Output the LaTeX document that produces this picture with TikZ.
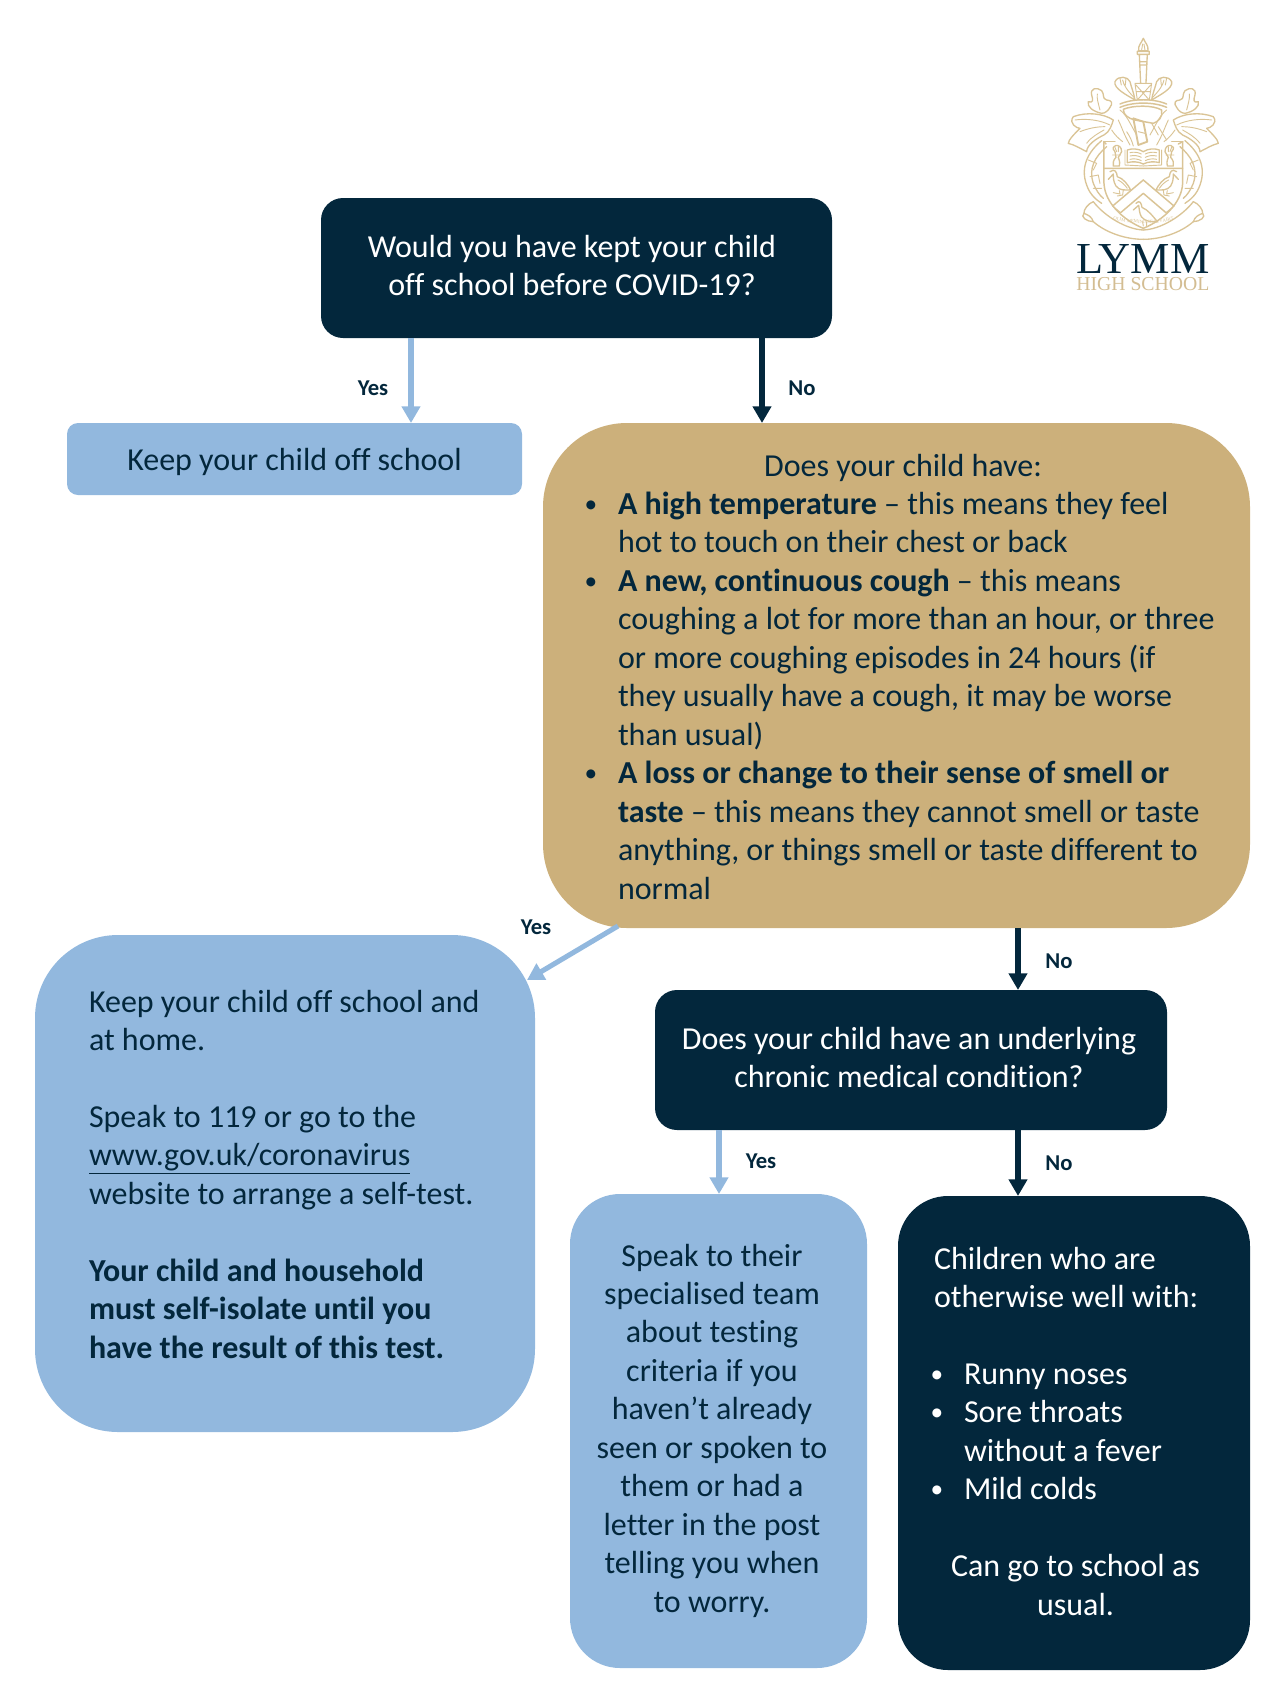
\documentclass[tikz,border=0pt]{standalone}
\usepackage{fontspec}
\setmainfont[Ligatures=CommonOff]{Carlito}
\newfontfamily\logofont{Liberation Serif}
\usetikzlibrary{arrows.meta,calc,decorations.text}
\definecolor{navy}{HTML}{03273C}
\definecolor{tan}{HTML}{CCB07B}
\definecolor{sky}{HTML}{92B8DE}
\definecolor{gold}{HTML}{DAC496}
\definecolor{goldtext}{HTML}{D3BD92}
\newdimen\px \px=.75pt
% width, height, first baseline, alignment settings, lines
\newcommand\tb[5]{\begin{minipage}[c][#2\px][t]{#1\px}#4\rule{0pt}{#3\px}#5\par\end{minipage}}
\newcommand\lft[1]{\leftskip=#1\px\rightskip=0pt\parfillskip=0pt plus 1fil\relax}
\newcommand\ctrx[2]{\leftskip=#1\px plus 1fil\rightskip=#2\px plus 1fil\parfillskip=0pt\relax}
\newcommand\bul{\makebox[0pt][r]{\raisebox{1.6pt}{\fontsize{19}{19}\selectfont •}\hspace{15.5pt}}}
\tikzset{
  x=.75pt,y=-.75pt,
  fbox/.style n args={3}{rectangle,inner sep=0pt,outer sep=0pt,anchor=north west,
    minimum width=#1*0.75pt,minimum height=#2*0.75pt,rounded corners=#3*0.75pt,
    font=\fontsize{24}{28.85}\selectfont},
  darkbox/.style={fill=navy,text=white},
  skybox/.style={fill=sky,text=navy},
  tanbox/.style={fill=tan,text=navy},
  yesarrow/.style={draw=sky,line width=4.4pt,-{Triangle[length=12.5pt,width=13.5pt]}},
  noarrow/.style={draw=navy,line width=4.4pt,-{Triangle[length=12.5pt,width=13.5pt]}},
  lab/.style={text=navy,font=\fontsize{17}{20}\bfseries\selectfont,inner sep=0pt},
  crest/.style={draw=gold,line width=.7pt,line join=round,line cap=round},
}
\begin{document}
\begin{tikzpicture}
\useasboundingbox (0,0) rectangle (1280,1707);
% boxes
\node[fbox={511}{140}{22},darkbox] (top) at (321,198)
  {\tb{511}{140}{59}{\ctrx{0}{9}}{Would you have kept your child\par off school before COVID-19?}};
\node[fbox={455}{72}{11},skybox] (keep) at (67,423)
  {\tb{455}{72}{47}{\ctrx{0}{0}}{Keep your child off school}};
\node[fbox={707}{505}{84},tanbox] (sym) at (543,423)
  {\tb{707}{505}{53}{\lft{75}}{{\leftskip=0pt plus 1fil\rightskip=0pt plus 1fil\parfillskip=0pt\relax\hspace*{13\px}Does your child have:\par}
  \bul\textbf{A high temperature} – this means they feel\par
  hot to touch on their chest or back\par
  \bul\textbf{A new, continuous cough} – this means\par
  coughing a lot for more than an hour, or three\par
  or more coughing episodes in 24 hours (if\par
  they usually have a cough, it may be worse\par
  than usual)\par
  \bul\textbf{A loss or change to their sense of smell or}\par
  \textbf{taste} – this means they cannot smell or taste\par
  anything, or things smell or taste different to\par
  normal}};
\node[fbox={500}{497}{83},skybox] (home) at (35,935)
  {\tb{500}{497}{77}{\lft{54}}{Keep your child off school and\par
  at home.\par\vspace{28.85pt}
  Speak to 119 or go to the\par
  \underline{www.gov.uk/coronavirus}\par
  website to arrange a self-test.\par\vspace{28.85pt}
  \textbf{Your child and household}\par
  \textbf{must self-isolate until you}\par
  \textbf{have the result of this test.}}};
\node[fbox={512}{140}{22},darkbox] (cond) at (655,990)
  {\tb{512}{140}{59}{\ctrx{0}{4}}{Does your child have an underlying\par chronic medical condition?}};
\node[fbox={297}{474}{50},skybox] (team) at (570,1194)
  {\tb{297}{474}{72}{\ctrx{0}{13}}{Speak to their\par specialised team\par about testing\par criteria if you\par haven’t already\par seen or spoken to\par them or had a\par letter in the post\par telling you when\par to worry.}};
\node[fbox={352}{474}{50},darkbox] (well) at (898,1196)
  {\tb{352}{474}{73}{\lft{36}}{Children who are\par otherwise well with:\par\vspace{28.85pt}
  {\leftskip=66\px\bul Runny noses\par
  \bul Sore throats\par
  without a fever\par
  \bul Mild colds\par}\vspace{28.85pt}
  {\leftskip=3\px plus 1fil\rightskip=0pt plus 1fil\parfillskip=0pt\relax Can go to school as\par usual.\par}}};
% connector x positions
\coordinate (xa) at (411,0);
\coordinate (xb) at (762,0);
\coordinate (xc) at (1018,0);
\coordinate (xd) at (719,0);
\draw[yesarrow] (top.south -| xa) -- (keep.north -| xa);
\draw[noarrow] (top.south -| xb) -- (sym.north -| xb);
\draw[yesarrow,line width=3.8pt] ([shift={(75,-2)}]sym.south west) -- ([shift={(-8,45)}]home.north east);
\draw[noarrow,line width=3.8pt] (sym.south -| xc) -- (cond.north -| xc);
\draw[yesarrow,line width=3.8pt] (cond.south -| xd) -- (team.north -| xd);
\draw[noarrow,line width=3.8pt] (cond.south -| xc) -- (well.north -| xc);
% labels
\node[lab] (l1) at (373,388) {Yes};
\node[lab] (l2) at (802,388) {No};
\node[lab] (l3) at (536,927) {Yes};
\node[lab] (l4) at (1059,961) {No};
\node[lab] (l5) at (761,1161) {Yes};
\node[lab] (l6) at (1059,1163) {No};
% logo text
\node[anchor=base west,inner sep=0pt,text=navy,font=\logofont\fontsize{33.2}{36}\selectfont] (lymm) at (1076,273) {LYMM};
\node[anchor=base west,inner sep=0pt,text=goldtext,font=\logofont\fontsize{14.8}{16}\selectfont] (high) at (1076,290) {HIGH SCHOOL};
% crest (drawn in 3x zoom units about the centre line)
\begin{scope}[shift={(1143.3,20)},x=.25pt,y=-.25pt]
  % torch
  \draw[crest,line width=1pt] (0,55) .. controls (-6,70) and (-16,75) .. (-14,92) -- (14,92) .. controls (16,75) and (6,70) .. (0,55);
  \draw[crest] (-5,90) -- (-2,72) (5,90) -- (2,72);
  \draw[crest,line width=1pt] (-18,94) rectangle (18,103) (-12,103) -- (-8,190) (12,103) -- (8,190) (-8,125) -- (8,125) (-8,135) -- (8,135);
  % crossed straps on the torch
  \draw[crest] (-25,190) -- (25,190) -- (18,240) -- (-18,240) -- cycle (-22,195) -- (18,240) (22,195) -- (-18,240) (-22,215) -- (22,215);
  % wreath
  \draw[crest,line width=1.1pt] (-70,262) .. controls (-30,245) and (30,245) .. (70,262);
  \draw[crest,line width=1.1pt] (-70,252) .. controls (-30,235) and (30,235) .. (70,252);
  \foreach \sg in {1,-1}{
  \begin{scope}[xscale=\sg]
    % plume
    \draw[crest,line width=1pt] (-25,240) .. controls (-50,225) and (-90,205) .. (-85,185) .. controls (-75,165) and (-45,170) .. (-40,185) .. controls (-35,205) and (-28,220) .. (-25,240);
    \draw[crest] (-28,232) .. controls (-45,215) and (-60,195) .. (-62,180) (-70,175) -- (-66,195) (-52,175) -- (-54,195);
    % upper leaf
    \draw[crest,line width=1pt] (-125,280) .. controls (-150,275) and (-170,260) .. (-165,245) .. controls (-150,250) and (-150,240) .. (-155,225) .. controls (-160,205) and (-140,200) .. (-125,212) .. controls (-115,225) and (-125,235) .. (-110,240) .. controls (-95,240) and (-90,250) .. (-100,262) .. controls (-105,272) and (-115,280) .. (-125,280);
    \draw[crest] (-130,270) .. controls (-135,250) and (-140,235) .. (-138,222);
    % mantling
    \draw[crest,line width=1pt] (-90,300) .. controls (-120,280) and (-170,275) .. (-210,290) .. controls (-225,310) and (-200,325) .. (-190,325) .. controls (-205,340) and (-225,360) .. (-225,370) .. controls (-205,375) and (-190,385) .. (-170,395) .. controls (-170,375) and (-140,355) .. (-118,345) .. controls (-100,335) and (-95,315) .. (-90,300);
    \draw[crest] (-205,300) .. controls (-170,295) and (-130,300) .. (-100,315) (-190,335) .. controls (-165,325) and (-140,320) .. (-115,320) (-170,370) .. controls (-155,350) and (-135,340) .. (-118,330);
    % helmet side folds
    \draw[crest] (-70,270) .. controls (-50,285) and (-40,310) .. (-20,345) (-75,300) .. controls (-65,320) and (-60,340) .. (-40,375) (-95,330) .. controls (-85,345) and (-75,355) .. (-62,365);
    % side vine
    \draw[crest,line width=1pt] (-125,362) .. controls (-165,395) and (-190,440) .. (-170,495) .. controls (-160,525) and (-140,540) .. (-125,550);
    \draw[crest,line width=1pt] (-110,380) .. controls (-145,410) and (-165,445) .. (-150,490) .. controls (-142,510) and (-132,525) .. (-120,535);
    \draw[crest] (-165,420) -- (-140,430) -- (-150,450) (-160,470) -- (-135,465) -- (-130,490) (-150,505) -- (-125,505);
    % shield half
    \draw[crest,line width=1.1pt] (-118,365) -- (-118,490) .. controls (-115,550) and (-60,600) .. (0,625);
    % garb
    \draw[crest,line width=1pt] (-85,395) .. controls (-105,375) and (-65,365) .. (-65,395) -- (-75,412) .. controls (-70,425) and (-70,432) .. (-72,438) -- (-90,438) .. controls (-92,430) and (-90,420) .. (-82,412) -- cycle;
    \draw[crest] (-92,405) -- (-68,405) (-85,382) -- (-80,395) (-75,380) -- (-75,395);
    % book half
    \draw[crest,line width=1pt] (0,395) .. controls (-15,385) and (-35,385) .. (-48,390) -- (-48,428) .. controls (-35,424) and (-15,424) .. (0,432);
    \draw[crest] (-55,390) -- (-55,435) -- (0,438) (-40,398) .. controls (-28,395) and (-15,397) .. (-6,402) (-40,408) .. controls (-28,405) and (-15,407) .. (-6,412) (-40,418) .. controls (-28,415) and (-15,417) .. (-6,422);
    % pelican
    \draw[crest,line width=1pt] (-100,455) .. controls (-85,445) and (-80,455) .. (-78,470) .. controls (-60,475) and (-45,495) .. (-38,510) .. controls (-55,510) and (-72,512) .. (-82,498) .. controls (-90,485) and (-90,472) .. (-90,462) -- (-105,478);
    \draw[crest] (-72,512) -- (-70,522) -- (-90,518) (-60,510) -- (-62,525) -- (-78,528) (-76,480) .. controls (-65,485) and (-55,495) .. (-48,505);
    % chevron
    \draw[crest,line width=1.1pt] (0,480) -- (-92,558) (0,520) -- (-68,578);
    \draw[crest] (-92,558) -- (-68,578);
    % scroll
    \draw[crest,line width=1pt] (-150,545) .. controls (-165,550) and (-180,570) .. (-178,580) .. controls (-165,585) and (-155,590) .. (-150,605) .. controls (-110,640) and (-50,658) .. (0,658);
    \draw[crest,line width=1pt] (-178,580) .. controls (-190,590) and (-170,605) .. (-150,605);
    \draw[crest,line width=1pt] (-150,545) .. controls (-115,590) and (-50,628) .. (0,630);
  \end{scope}}
  % shield top, band and central pelican
  \draw[crest,line width=1.1pt] (-118,365) -- (-112,372) (-118,445) -- (118,445) (118,365) -- (105,372);
  \draw[crest,line width=1.1pt] (-118,365) -- (-85,365) (85,365) -- (118,365);
  \draw[crest,line width=1pt] (-22,550) .. controls (-10,538) and (-6,550) .. (-4,562) .. controls (15,570) and (30,590) .. (42,605) .. controls (22,605) and (5,605) .. (-6,590) .. controls (-12,580) and (-12,565) .. (-14,556) -- (-30,570);
  \draw[crest] (-2,605) -- (0,618) (10,606) -- (10,618);
  % helmet and mantle in the middle
  \draw[crest,line width=1.1pt] (-60,268) .. controls (-30,255) and (30,255) .. (55,270) .. controls (60,290) and (45,305) .. (30,310) -- (-25,300) .. controls (-45,295) and (-60,285) .. (-60,268);
  \draw[crest,line width=1.4pt] (-30,295) -- (-15,375) (0,305) -- (12,365) (-30,295) -- (0,305) (-15,375) -- (12,365);
  \draw[crest] (-15,335) -- (5,340) (25,310) -- (45,345) (45,320) -- (70,360) (-50,335) .. controls (-40,350) and (-35,360) .. (-30,378);
  % motto
  \path[postaction={decorate,decoration={text along path,text align=center,raise=-1pt,
    text={|\logofont\fontsize{3.6}{4}\selectfont\color{gold}|OLIM MEMINISSE IUVABIT}}}]
    (-145,565) .. controls (-100,615) and (100,625) .. (145,565);
\end{scope}
\end{tikzpicture}
\end{document}
